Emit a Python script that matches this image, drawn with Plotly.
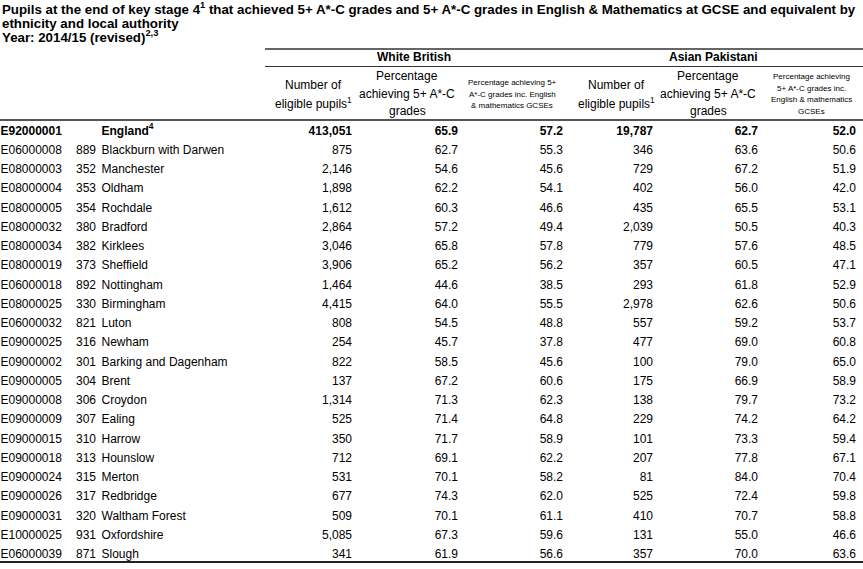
import plotly.graph_objects as go

# ---------------- data ----------------
codes = ["E92000001", "E06000008", "E08000003", "E08000004", "E08000005", "E08000032",
         "E08000034", "E08000019", "E06000018", "E08000025", "E06000032", "E09000025",
         "E09000002", "E09000005", "E09000008", "E09000009", "E09000015", "E09000018",
         "E09000024", "E09000026", "E09000031", "E10000025", "E06000039"]
la_numbers = ["", "889", "352", "353", "354", "380", "382", "373", "892", "330", "821", "316",
              "301", "304", "306", "307", "310", "313", "315", "317", "320", "931", "871"]
la_names = ["England<sup>4</sup>", "Blackburn with Darwen", "Manchester", "Oldham", "Rochdale",
            "Bradford", "Kirklees", "Sheffield", "Nottingham", "Birmingham", "Luton", "Newham",
            "Barking and Dagenham", "Brent", "Croydon", "Ealing", "Harrow", "Hounslow", "Merton",
            "Redbridge", "Waltham Forest", "Oxfordshire", "Slough"]

wb_pupils = [413051, 875, 2146, 1898, 1612, 2864, 3046, 3906, 1464, 4415, 808, 254,
             822, 137, 1314, 525, 350, 712, 531, 677, 509, 5085, 341]
wb_pct5 = [65.9, 62.7, 54.6, 62.2, 60.3, 57.2, 65.8, 65.2, 44.6, 64.0, 54.5, 45.7,
           58.5, 67.2, 71.3, 71.4, 71.7, 69.1, 70.1, 74.3, 70.1, 67.3, 61.9]
wb_pct5em = [57.2, 55.3, 45.6, 54.1, 46.6, 49.4, 57.8, 56.2, 38.5, 55.5, 48.8, 37.8,
             45.6, 60.6, 62.3, 64.8, 58.9, 62.2, 58.2, 62.0, 61.1, 59.6, 56.6]

ap_pupils = [19787, 346, 729, 402, 435, 2039, 779, 357, 293, 2978, 557, 477,
             100, 175, 138, 229, 101, 207, 81, 525, 410, 131, 357]
ap_pct5 = [62.7, 63.6, 67.2, 56.0, 65.5, 50.5, 57.6, 60.5, 61.8, 62.6, 59.2, 69.0,
           79.0, 66.9, 79.7, 74.2, 73.3, 77.8, 84.0, 72.4, 70.7, 55.0, 70.0]
ap_pct5em = [52.0, 50.6, 51.9, 42.0, 53.1, 40.3, 48.5, 47.1, 52.9, 50.6, 53.7, 60.8,
             65.0, 58.9, 73.2, 64.2, 59.4, 67.1, 70.4, 59.8, 58.8, 46.6, 63.6]

title_lines = [
    "Pupils at the end of key stage 4<sup>1</sup> that achieved 5+ A*-C grades and 5+ A*-C grades in English & Mathematics at GCSE and equivalent by",
    "ethnicity and local authority",
    "Year: 2014/15 (revised)<sup>2,3</sup>",
]
group_labels = ["White British", "Asian Pakistani"]
col_headers = [
    (["Number of", "eligible pupils<sup>1</sup>"], 12),
    (["Percentage", "achieving 5+ A*-C", "grades"], 12),
    (["Percentage achieving 5+", "A*-C grades inc. English", "& mathematics GCSEs"], 8),
    (["Number of", "eligible pupils<sup>1</sup>"], 12),
    (["Percentage", "achieving 5+ A*-C", "grades"], 12),
    (["Percentage achieving", "5+ A*-C grades inc.", "English & mathematics", "GCSEs"], 8),
]

# ---------------- layout constants ----------------
W, H = 863, 569
ROW0, PITCH = 131.5, 19.25
FONT = "Liberation Sans, Arial, sans-serif"
INK = "#000000"

def py(p):
    return 1 - p / H

def fmt_int(v):
    return f"{v:,}"

def fmt_pct(v):
    return f"{v:.1f}"

def bold_first(items):
    return [f"<b>{t}</b>" if i == 0 and t else t for i, t in enumerate(items)]

rows = list(range(len(codes)))
fig = go.Figure()

columns = [
    (codes, 0.5, "middle right"),
    (la_numbers, 96, "middle left"),
    (la_names, 101.5, "middle right"),
    ([fmt_int(v) for v in wb_pupils], 352, "middle left"),
    ([fmt_pct(v) for v in wb_pct5], 458, "middle left"),
    ([fmt_pct(v) for v in wb_pct5em], 563, "middle left"),
    ([fmt_int(v) for v in ap_pupils], 653, "middle left"),
    ([fmt_pct(v) for v in ap_pct5], 758, "middle left"),
    ([fmt_pct(v) for v in ap_pct5em], 856, "middle left"),
]
for texts, xpos, tpos in columns:
    fig.add_trace(go.Scatter(
        x=[xpos] * len(rows), y=rows, mode="text", text=bold_first(texts),
        textposition=tpos, textfont=dict(family=FONT, size=12, color=INK),
        hoverinfo="skip", showlegend=False, cliponaxis=False))

annotations = []
for k, (t, yc) in enumerate(zip(title_lines, [8, 23, 37])):
    annotations.append(dict(text=f"<b>{t}</b>", x=0, y=py(yc), xref="x", yref="paper",
                            xanchor="left", yanchor="middle", showarrow=False,
                            font=dict(family=FONT, size=13.3, color=INK)))
for lab, xc in zip(group_labels, [414, 713]):
    annotations.append(dict(text=f"<b>{lab}</b>", x=xc, y=py(57.5), xref="x", yref="paper",
                            xanchor="center", yanchor="middle", showarrow=False,
                            font=dict(family=FONT, size=12, color=INK)))
for (lines, fs), xc in zip(col_headers, [313, 407, 512, 616, 708, 811]):
    pitch = 17.5 if fs == 12 else 11.5
    n = len(lines)
    for k, line in enumerate(lines):
        yc = 94 + (k - (n - 1) / 2) * pitch
        annotations.append(dict(text=line, x=xc, y=py(yc), xref="x", yref="paper",
                                xanchor="center", yanchor="middle", showarrow=False,
                                font=dict(family=FONT, size=fs, color=INK)))

shapes = [
    dict(type="line", x0=265, x1=W, y0=py(49), y1=py(49), xref="x", yref="paper",
         line=dict(color="#333333", width=1.5)),
    dict(type="line", x0=265, x1=W, y0=py(66.5), y1=py(66.5), xref="x", yref="paper",
         line=dict(color="#333333", width=1)),
    dict(type="line", x0=0, x1=W, y0=py(120), y1=py(120), xref="x", yref="paper",
         line=dict(color="#555555", width=2)),
    dict(type="line", x0=0, x1=W, y0=py(562), y1=py(562), xref="x", yref="paper",
         line=dict(color="#222222", width=2)),
]

fig.update_layout(
    width=W, height=H, margin=dict(l=0, r=0, t=0, b=0),
    paper_bgcolor="white", plot_bgcolor="white",
    xaxis=dict(range=[0, W], visible=False, fixedrange=True),
    yaxis=dict(range=[(H - ROW0) / PITCH, -ROW0 / PITCH], visible=False, fixedrange=True),
    annotations=annotations, shapes=shapes, showlegend=False,
)
fig.write_html("out.html", config={"displayModeBar": False},
               post_script="document.body.style.margin='0';document.body.style.overflow='hidden';")
